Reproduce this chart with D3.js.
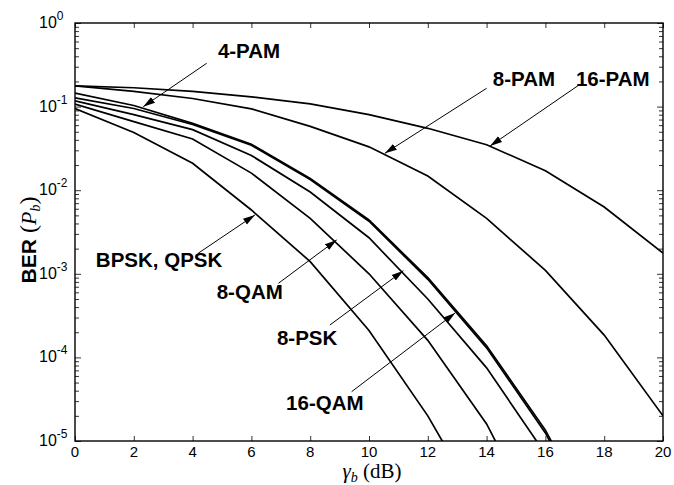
<!DOCTYPE html>
<html lang="en">
<head>
<meta charset="UTF-8">
<title>BER</title>
<script src="https://cdn.jsdelivr.net/npm/d3@7"></script>
<style>
body { margin: 0; background: #fff; }
text { font-family: "Liberation Sans", Arial, sans-serif; fill: #000; }
</style>
</head>
<body>
<script>
var width = 674, height = 485;
var pLeft = 75, pRight = 663, pTop = 23, pBottom = 441;

// Eb/N0 points (dB)
var snr = [0, 2, 4, 6, 8, 10, 12, 14, 16, 18, 20];
// BER, null = below the plot
var berBpsk = [0.095, 0.049, 0.021, 5.8e-3, 1.4e-3, 2.1e-4, 2.0e-5, 1.2e-6, null, null, null];
var ber8Qam = [0.107, 0.066, 0.041, 0.016, 4.6e-3, 1.0e-3, 1.6e-4, 1.6e-5, 7e-7, null, null];
var ber8Psk = [0.117, 0.080, 0.053, 0.026, 9.5e-3, 2.7e-3, 5.0e-4, 7.5e-5, 7e-6, 3e-7, null];
var ber16Qam = [0.127, 0.095, 0.061, 0.0345, 0.0134, 4.25e-3, 8.6e-4, 1.3e-4, 1.25e-5, 5.5e-7, null];
var ber4Pam = [0.145, 0.103, 0.063, 0.0355, 0.0138, 4.4e-3, 9.0e-4, 1.38e-4, 1.35e-5, 6.5e-7, null];
var ber8Pam = [0.177, 0.152, 0.125, 0.094, 0.058, 0.033, 0.0148, 4.6e-3, 1.1e-3, 1.85e-4, 2.0e-5];
var ber16Pam = [0.177, 0.168, 0.152, 0.131, 0.108, 0.080, 0.055, 0.035, 0.0171, 6.3e-3, 1.77e-3];

var xTicks = [0, 2, 4, 6, 8, 10, 12, 14, 16, 18, 20];
var yExp = [0, -1, -2, -3, -4, -5];

var series = [berBpsk, ber8Qam, ber8Psk, ber16Qam, ber4Pam, ber8Pam, ber16Pam];

// labels: [text, label x/y, arrow tail, arrow tip] in data units
var notes = [
    ['4-PAM', [4.86, 0.381], [4.48, 0.33], [2.32, 0.0997]],
    ['8-PAM', [14.21, 0.176], [14.0, 0.1656], [10.54, 0.0276]],
    ['16-PAM', [17.04, 0.176], [17.18, 0.185], [14.12, 0.0338]],
    ['BPSK, QPSK', [0.71, 1.2e-3], [4.19, 1.76e-3], [6.12, 5.05e-3]],
    ['8-QAM', [4.82, 5.0e-4], [6.92, 7.7e-4], [8.9, 2.54e-3]],
    ['8-PSK', [6.87, 1.41e-4], [8.67, 2.44e-4], [11.17, 1.09e-3]],
    ['16-QAM', [7.18, 2.35e-5], [9.41, 3.89e-5], [12.93, 3.4e-4]]
];

var svg = d3.select('body').append('svg')
    .attr('width', width)
    .attr('height', height);

var x = d3.scaleLinear().domain([0, 20]).range([pLeft, pRight]);
var y = d3.scaleLog().domain([1e-5, 1]).range([pBottom, pTop]);

var defs = svg.append('defs');
defs.append('clipPath').attr('id', 'plot')
    .append('rect')
    .attr('x', pLeft).attr('y', pTop)
    .attr('width', pRight - pLeft).attr('height', pBottom - pTop);

defs.append('marker')
    .attr('id', 'head')
    .attr('viewBox', '0 -4 12 8')
    .attr('refX', 12).attr('refY', 0)
    .attr('markerWidth', 12).attr('markerHeight', 8)
    .attr('markerUnits', 'userSpaceOnUse')
    .attr('orient', 'auto')
    .append('path')
    .attr('d', 'M0,-3.5L12,0L0,3.5Z')
    .attr('fill', '#000');

// minor ticks for log axis
var minor = [];
yExp.slice(1).forEach(function(e) {
    for (var k = 2; k <= 9; k++) minor.push(k * Math.pow(10, e));
});
var major = yExp.map(function(e) { return Math.pow(10, e); });

function tickStyle(g) {
    g.select('.domain').remove();
    g.selectAll('line').attr('stroke', '#333').attr('stroke-width', 1);
}

svg.append('g').attr('transform', 'translate(0,' + pBottom + ')')
    .call(d3.axisBottom(x).tickValues(xTicks).tickSize(-5).tickFormat(''))
    .call(tickStyle);
svg.append('g').attr('transform', 'translate(0,' + pTop + ')')
    .call(d3.axisTop(x).tickValues(xTicks).tickSize(-5).tickFormat(''))
    .call(tickStyle);
svg.append('g').attr('transform', 'translate(' + pLeft + ',0)')
    .call(d3.axisLeft(y).tickValues(major).tickSize(-6).tickFormat(''))
    .call(tickStyle);
svg.append('g').attr('transform', 'translate(' + pLeft + ',0)')
    .call(d3.axisLeft(y).tickValues(minor).tickSize(-4).tickFormat(''))
    .call(tickStyle);
svg.append('g').attr('transform', 'translate(' + pRight + ',0)')
    .call(d3.axisRight(y).tickValues(major).tickSize(-6).tickFormat(''))
    .call(tickStyle);
svg.append('g').attr('transform', 'translate(' + pRight + ',0)')
    .call(d3.axisRight(y).tickValues(minor).tickSize(-4).tickFormat(''))
    .call(tickStyle);

// curves
var line = d3.line()
    .defined(function(d) { return d[1] != null; })
    .x(function(d) { return x(d[0]); })
    .y(function(d) { return y(d[1]); });

svg.append('g').attr('clip-path', 'url(#plot)')
    .selectAll('path')
    .data(series)
    .enter()
    .append('path')
    .attr('d', function(s) {
        return line(snr.map(function(v, i) { return [v, s[i]]; }));
    })
    .attr('fill', 'none')
    .attr('stroke', '#000')
    .attr('stroke-width', 1.7);

// frame
svg.append('rect')
    .attr('x', pLeft).attr('y', pTop)
    .attr('width', pRight - pLeft).attr('height', pBottom - pTop)
    .attr('fill', 'none')
    .attr('stroke', '#000')
    .attr('stroke-width', 1.4);

// tick labels
svg.append('g').selectAll('text')
    .data(xTicks)
    .enter()
    .append('text')
    .attr('x', function(d) { return x(d); })
    .attr('y', 457)
    .attr('text-anchor', 'middle')
    .style('font-size', '15px')
    .text(function(d) { return d; });

var yl = svg.append('g').selectAll('text')
    .data(yExp)
    .enter()
    .append('text')
    .attr('x', 39)
    .attr('y', function(d) { return y(Math.pow(10, d)) + 5; })
    .style('font-size', '16px');
yl.append('tspan').text('10');
yl.append('tspan')
    .attr('dy', -8)
    .style('font-size', '12px')
    .text(function(d) { return d === 0 ? '0' : '-' + (-d); });

// annotations
var ann = svg.append('g');
notes.forEach(function(n) {
    ann.append('line')
        .attr('x1', x(n[2][0])).attr('y1', y(n[2][1]))
        .attr('x2', x(n[3][0])).attr('y2', y(n[3][1]))
        .attr('stroke', '#000')
        .attr('stroke-width', 1)
        .attr('marker-end', 'url(#head)');
    ann.append('text')
        .attr('x', x(n[1][0])).attr('y', y(n[1][1]))
        .style('font-size', '20.5px')
        .style('font-weight', 'bold')
        .text(n[0]);
});

// axis titles
var xt = svg.append('text')
    .attr('x', 372).attr('y', 478)
    .attr('text-anchor', 'middle')
    .style('font-family', '"Liberation Serif", "Times New Roman", serif')
    .style('font-size', '21px');
xt.append('tspan').style('font-style', 'italic').text('\u03b3');
xt.append('tspan').attr('dy', 4).style('font-style', 'italic').style('font-size', '14px').text('b');
xt.append('tspan').attr('dy', -4).text(' (dB)');

var yt = svg.append('text')
    .attr('transform', 'translate(36,240) rotate(-90)')
    .attr('text-anchor', 'middle')
    .style('font-size', '21px');
yt.append('tspan').style('font-weight', 'bold').text('BER');
yt.append('tspan').style('font-family', '"Liberation Serif", serif').style('font-size', '24px').text(' (');
yt.append('tspan').style('font-family', '"Liberation Serif", serif').style('font-style', 'italic').style('font-size', '22px').text('P');
yt.append('tspan').attr('dy', 4).style('font-family', '"Liberation Serif", serif').style('font-style', 'italic').style('font-size', '14px').text('b');
yt.append('tspan').attr('dy', -4).style('font-family', '"Liberation Serif", serif').style('font-size', '24px').text(')');
</script>
</body>
</html>
